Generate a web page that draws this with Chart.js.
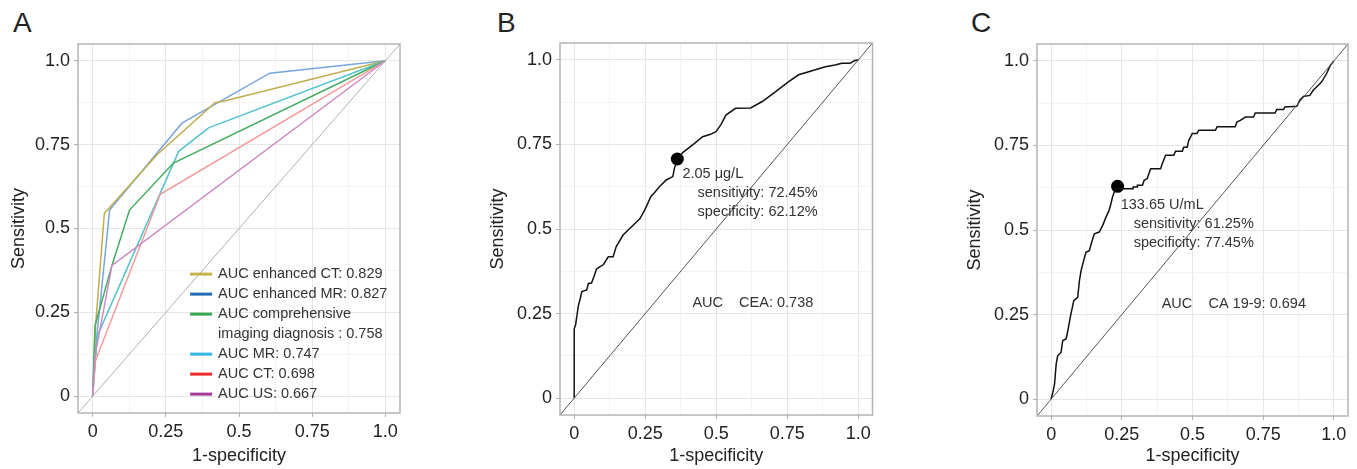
<!DOCTYPE html>
<html lang="en">
<head>
<meta charset="UTF-8">
<title>ROC curves</title>
<script src="https://cdn.jsdelivr.net/npm/chart.js@4.4.0/dist/chart.umd.min.js"></script>
<style>
    body { margin: 0; background: #fff; width: 1357px; height: 469px; overflow: hidden; position: relative;
           font-family: "Liberation Sans", Arial, sans-serif; }
    .panel { position: absolute; top: 0; height: 469px; }
    .letter { position: absolute; top: 7px; font-size: 28px; color: #222; }
</style>
</head>
<body>

<div class="letter" style="left:13px">A</div>
<div class="letter" style="left:497px">B</div>
<div class="letter" style="left:971px">C</div>

<div class="panel" style="left:0;width:410px"><canvas id="rocA"></canvas></div>
<div class="panel" style="left:479px;width:400px"><canvas id="rocB"></canvas></div>
<div class="panel" style="left:958px;width:399px"><canvas id="rocC"></canvas></div>

<script>
// axes
const tickValues = [0, 0.125, 0.25, 0.375, 0.5, 0.625, 0.75, 0.875, 1];
const majorTicks = [0, 0.25, 0.5, 0.75, 1];
const tickLabels = ['0', '0.25', '0.5', '0.75', '1.0'];
const chanceLine = [-0.05, 1.05];

// panel A - imaging
const aLabels = ['AUC enhanced CT: 0.829', 'AUC enhanced MR: 0.827',
                 ['AUC comprehensive', 'imaging diagnosis : 0.758'],
                 'AUC MR: 0.747', 'AUC CT: 0.698', 'AUC US: 0.667'];
const ctEnhFpr = [0, 0.01, 0.04, 0.22, 0.418, 0.45, 1];
const ctEnhTpr = [0, 0.21, 0.545, 0.72, 0.875, 0.88, 1];
const mrEnhFpr = [0, 0.012, 0.058, 0.305, 0.605, 1];
const mrEnhTpr = [0, 0.16, 0.555, 0.814, 0.963, 1];
const compFpr = [0, 0.008, 0.066, 0.126, 0.276, 1];
const compTpr = [0, 0.21, 0.39, 0.555, 0.695, 1];
const mrFpr = [0, 0.016, 0.294, 0.396, 1];
const mrTpr = [0, 0.18, 0.73, 0.80, 1];
const ctFpr = [0, 0.01, 0.231, 1];
const ctTpr = [0, 0.107, 0.602, 1];
const usFpr = [0, 0.008, 0.066, 1];
const usTpr = [0, 0.12, 0.39, 1];

// panel B - CEA
const ceaFpr = [0, 0, 0.005, 0.009, 0.015, 0.02, 0.027, 0.044, 0.05, 0.061, 0.07, 0.078, 0.09, 0.103,
                0.12, 0.137, 0.148, 0.172, 0.2, 0.231, 0.248, 0.27, 0.283, 0.3, 0.324, 0.347, 0.353,
                0.363, 0.382, 0.417, 0.452, 0.48, 0.499, 0.516, 0.534, 0.568, 0.621, 0.662, 0.709,
                0.755, 0.79, 0.837, 0.884, 0.918, 0.942, 0.971, 0.988, 1];
const ceaTpr = [0, 0.205, 0.217, 0.24, 0.275, 0.29, 0.315, 0.32, 0.339, 0.34, 0.36, 0.381, 0.388, 0.395,
                0.418, 0.418, 0.448, 0.482, 0.505, 0.53, 0.556, 0.596, 0.608, 0.625, 0.645, 0.655, 0.68,
                0.707, 0.726, 0.749, 0.773, 0.78, 0.788, 0.808, 0.837, 0.857, 0.858, 0.877, 0.906,
                0.936, 0.956, 0.968, 0.98, 0.985, 0.99, 0.99, 0.998, 1];
const ceaCut = [0.363, 0.707];
const ceaNotes = ['2.05 μg/L', 'sensitivity: 72.45%', 'specificity: 62.12%'];
const ceaAuc = 'AUC    CEA: 0.738';

// panel C - CA 19-9
const caFpr = [0, 0.006, 0.012, 0.016, 0.018, 0.023, 0.035, 0.041, 0.053, 0.059, 0.065, 0.07, 0.076, 0.08,
               0.094, 0.1, 0.106, 0.112, 0.123, 0.135, 0.147, 0.153, 0.17, 0.182, 0.194, 0.205, 0.212,
               0.217, 0.223, 0.232, 0.29, 0.29, 0.305, 0.305, 0.323, 0.329, 0.34, 0.345, 0.352, 0.387,
               0.393, 0.405, 0.434, 0.44, 0.464, 0.469, 0.481, 0.487, 0.493, 0.499, 0.516, 0.522, 0.581,
               0.587, 0.651, 0.657, 0.669, 0.687, 0.716, 0.722, 0.792, 0.798, 0.822, 0.827, 0.869, 0.88,
               0.892, 0.915, 0.927, 0.945, 0.957, 0.974, 0.988, 1];
const caTpr = [0, 0.02, 0.044, 0.085, 0.104, 0.128, 0.138, 0.173, 0.178, 0.202, 0.23, 0.252, 0.275, 0.291,
               0.301, 0.35, 0.38, 0.40, 0.434, 0.439, 0.474, 0.489, 0.494, 0.513, 0.538, 0.558, 0.58,
               0.597, 0.612, 0.622, 0.622, 0.627, 0.627, 0.632, 0.632, 0.647, 0.652, 0.665, 0.681, 0.681,
               0.696, 0.721, 0.721, 0.733, 0.733, 0.745, 0.745, 0.765, 0.775, 0.785, 0.785, 0.795, 0.795,
               0.805, 0.805, 0.819, 0.824, 0.834, 0.834, 0.846, 0.846, 0.856, 0.856, 0.864, 0.866, 0.884,
               0.895, 0.898, 0.913, 0.928, 0.938, 0.962, 0.987, 1];
const caCut = [0.235, 0.629];
const caNotes = ['133.65 U/mL', 'sensitivity: 61.25%', 'specificity: 77.45%'];
const caAuc = 'AUC    CA 19-9: 0.694';

const FONT = '"Liberation Sans", Arial, sans-serif';
const pts = (xs, ys) => xs.map((x, i) => ({x: x, y: ys[i]}));
const isMajor = v => majorTicks.indexOf(v) >= 0;

function axis(title, box, titlePad) {
    return {
        type: 'linear', min: chanceLine[0], max: chanceLine[1],
        afterBuildTicks: s => { s.ticks = tickValues.map(v => ({value: v})); },
        afterFit: s => { if (s.isHorizontal()) s.height = box; else s.width = box; },
        grid: {
            color: c => isMajor(c.tick.value) ? '#e6e6e6' : '#f3f3f3',
            tickColor: c => isMajor(c.tick.value) ? '#b0b0b0' : 'rgba(0,0,0,0)',
            tickLength: 4, lineWidth: 1
        },
        border: {display: false},
        ticks: {
            autoSkip: false, maxRotation: 0, padding: 4, color: '#222',
            font: {family: FONT, size: 18},
            callback: v => isMajor(v) ? tickLabels[majorTicks.indexOf(v)] : ''
        },
        title: {display: true, text: title, color: '#222', padding: titlePad,
                font: {family: FONT, size: 18, lineHeight: 1.2}}
    };
}

// grey box round the panel
const frame = {
    id: 'frame',
    afterDraw(chart) {
        const a = chart.chartArea, ctx = chart.ctx;
        ctx.save();
        ctx.strokeStyle = '#b4b4b4';
        ctx.lineWidth = 1.5;
        ctx.strokeRect(a.left, a.top, a.right - a.left, a.bottom - a.top);
        ctx.restore();
    }
};

// text notes placed in data units
const notes = {
    id: 'notes',
    afterDraw(chart, args, opts) {
        if (!opts.items) return;
        const ctx = chart.ctx, sx = chart.scales.x, sy = chart.scales.y;
        ctx.save();
        ctx.font = '14.5px ' + FONT;
        ctx.fillStyle = '#333';
        ctx.textBaseline = 'middle';
        opts.items.forEach(it => ctx.fillText(it.text, sx.getPixelForValue(it.x), sy.getPixelForValue(it.y)));
        ctx.restore();
    }
};

// legend inside panel A
const rocLegend = {
    id: 'rocLegend',
    afterDraw(chart, args, opts) {
        if (!opts.labels) return;
        const ctx = chart.ctx;
        const x0 = chart.scales.x.getPixelForValue(opts.x);
        let y = chart.scales.y.getPixelForValue(opts.y);
        ctx.save();
        ctx.font = '14.5px ' + FONT;
        ctx.textBaseline = 'middle';
        opts.labels.forEach((lab, i) => {
            ctx.strokeStyle = opts.colors[i];
            ctx.lineWidth = 3;
            ctx.beginPath();
            ctx.moveTo(x0, y);
            ctx.lineTo(x0 + 22, y);
            ctx.stroke();
            ctx.fillStyle = '#333';
            [].concat(lab).forEach((line, j) => {
                ctx.fillText(line, x0 + 28, y);
                y += opts.step;
            });
        });
        ctx.restore();
    }
};

function rocChart(id, datasets, layout, pluginOpts) {
    return new Chart(document.getElementById(id), {
        type: 'scatter',
        data: {datasets: datasets},
        options: {
            responsive: true, maintainAspectRatio: false, animation: false,
            layout: {padding: layout.pad},
            scales: {
                x: axis('1-specificity', layout.xh, {top: 0, bottom: 2}),
                y: axis('Sensitivity', layout.yw, {top: layout.ytp, bottom: 0})
            },
            plugins: Object.assign({legend: {display: false}, tooltip: {enabled: false}}, pluginOpts)
        },
        plugins: [frame, notes, rocLegend]
    });
}

function curve(xs, ys, color, width) {
    return {data: pts(xs, ys), showLine: true, borderColor: color, borderWidth: width,
            pointRadius: 0, tension: 0};
}

const chance = color => curve(chanceLine, chanceLine, color, 1);

// A
const aColors = ['#c3b34c', '#1f6cb7', '#33a852', '#36b6e2', '#ec2c2c', '#a4389c'];
rocChart('rocA', [
    chance('#b0b0b0'),
    curve(usFpr, usTpr, '#cc88c8', 1.5),
    curve(ctFpr, ctTpr, '#f49a9a', 1.5),
    curve(compFpr, compTpr, '#43ad5f', 1.5),
    curve(mrFpr, mrTpr, '#52c4cd', 1.5),
    curve(ctEnhFpr, ctEnhTpr, '#bfae50', 1.5),
    curve(mrEnhFpr, mrEnhTpr, '#79a6dc', 1.5)
], {pad: {left: 0, top: 44, right: 10, bottom: 0}, xh: 56, yw: 78, ytp: 8},
   {rocLegend: {labels: aLabels, colors: aColors, x: 0.333, y: 0.364, step: 20}});

// B
rocChart('rocB', [
    chance('#555'),
    curve(ceaFpr, ceaTpr, '#111', 1.5),
    {data: [{x: ceaCut[0], y: ceaCut[1]}], pointRadius: 6.5, pointBackgroundColor: '#000', pointBorderWidth: 0}
], {pad: {left: 0, top: 43, right: 5, bottom: 0}, xh: 54, yw: 81, ytp: 8},
   {notes: {items: [
       {text: ceaNotes[0], x: 0.381, y: 0.663},
       {text: ceaNotes[1], x: 0.434, y: 0.607},
       {text: ceaNotes[2], x: 0.434, y: 0.55},
       {text: ceaAuc, x: 0.416, y: 0.281}
   ]}});

// C
rocChart('rocC', [
    chance('#555'),
    curve(caFpr, caTpr, '#111', 1.5),
    {data: [{x: caCut[0], y: caCut[1]}], pointRadius: 6.5, pointBackgroundColor: '#000', pointBorderWidth: 0}
], {pad: {left: 0, top: 44, right: 9, bottom: 0}, xh: 53, yw: 79, ytp: 6},
   {notes: {items: [
       {text: caNotes[0], x: 0.246, y: 0.573},
       {text: caNotes[1], x: 0.292, y: 0.519},
       {text: caNotes[2], x: 0.292, y: 0.463},
       {text: caAuc, x: 0.391, y: 0.282}
   ]}});
</script>

</body>
</html>
